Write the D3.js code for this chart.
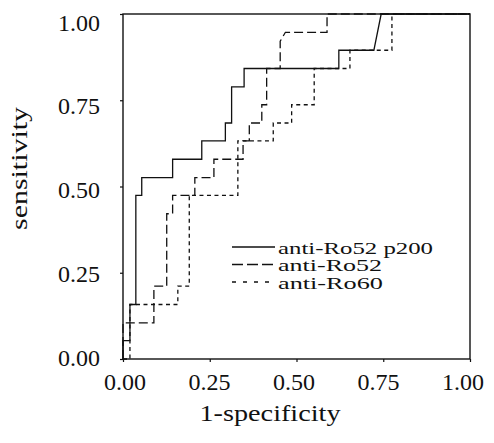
<!DOCTYPE html>
<html><head><meta charset="utf-8">
<script src="https://cdn.jsdelivr.net/npm/d3@7"></script>
<style>body{margin:0;background:#fff}text{font-family:"Liberation Serif","DejaVu Serif",serif;fill:#111}</style></head>
<body><svg id="c" width="494" height="443"></svg>
<script>
// ROC step curves (1-specificity, sensitivity)
const seriesNames = ["anti-Ro52 p200", "anti-Ro52", "anti-Ro60"];
const p200FPR = [0,0,0.02,0.02,0.037,0.037,0.054,0.054,0.143,0.143,0.227,0.227,0.295,0.295,0.313,0.313,0.349,0.349,0.622,0.622,0.723,0.744,1];
const p200TPR = [0,0.053,0.053,0.158,0.158,0.474,0.474,0.526,0.526,0.579,0.579,0.632,0.632,0.684,0.684,0.789,0.789,0.842,0.842,0.895,0.895,1,1];
const ro52FPR = [0,0,0.089,0.089,0.126,0.126,0.143,0.143,0.207,0.207,0.262,0.262,0.346,0.346,0.364,0.364,0.4,0.4,0.414,0.414,0.453,0.453,0.468,0.588,0.588,1];
const ro52TPR = [0,0.105,0.105,0.211,0.211,0.421,0.421,0.474,0.474,0.526,0.526,0.579,0.579,0.632,0.632,0.684,0.684,0.737,0.737,0.842,0.842,0.921,0.947,0.947,1,1];
const ro60FPR = [0,0.02,0.02,0.158,0.158,0.191,0.191,0.331,0.331,0.433,0.433,0.486,0.486,0.551,0.551,0.654,0.654,0.775,0.775,1];
const ro60TPR = [0,0,0.158,0.158,0.211,0.211,0.474,0.474,0.632,0.632,0.684,0.684,0.737,0.737,0.842,0.842,0.895,0.895,1,1];
const tickValues = [0, 0.25, 0.5, 0.75, 1];
const tickLabels = ["0.00", "0.25", "0.50", "0.75", "1.00"];
const xTitle = "1-specificity";
const yTitle = "sensitivity";

const series = [
  {name: seriesNames[0], fpr: p200FPR, tpr: p200TPR, dash: null, legDash: null, w: 155},
  {name: seriesNames[1], fpr: ro52FPR, tpr: ro52TPR, dash: "9,4", legDash: "11,4", w: 104},
  {name: seriesNames[2], fpr: ro60FPR, tpr: ro60TPR, dash: "4,3.5", legDash: "4,7", w: 105}
];

const svg = d3.select("#c");
const L = 123, R = 470, T = 14, B = 359;
const x = d3.scaleLinear().domain([0, 1]).range([L, R]);
const y = d3.scaleLinear().domain([0, 1]).range([B, T]);
const ink = "#111";

// frame
svg.append("rect").attr("x", L).attr("y", T).attr("width", R - L).attr("height", B - T)
  .attr("fill", "none").attr("stroke", ink).attr("stroke-width", 1.4);

// axes ticks
const xAxis = svg.append("g").attr("transform", `translate(0,${B})`)
  .call(d3.axisBottom(x).tickValues(tickValues).tickSize(3).tickFormat(""));
const yAxis = svg.append("g").attr("transform", `translate(${L},0)`)
  .call(d3.axisLeft(y).tickValues(tickValues).tickSize(3).tickFormat(""));
[xAxis, yAxis].forEach(g => { g.select(".domain").remove(); g.selectAll("line").attr("stroke", ink).attr("stroke-width", 1.2); });

// tick labels
const xLab = d3.scaleLinear().domain([0, 1]).range([125, 463]);
const yLab = d3.scaleLinear().domain([0, 1]).range([357.5, 22.5]);
svg.append("g").selectAll("text").data(tickValues).join("text")
  .attr("x", d => xLab(d)).attr("y", 390).attr("text-anchor", "middle")
  .attr("font-size", 23).attr("textLength", 42).attr("lengthAdjust", "spacingAndGlyphs")
  .text((d, i) => tickLabels[i]);
svg.append("g").selectAll("text").data(tickValues).join("text")
  .attr("x", 100).attr("y", d => yLab(d)).attr("dy", "0.35em").attr("text-anchor", "end")
  .attr("font-size", 23).attr("textLength", 42).attr("lengthAdjust", "spacingAndGlyphs")
  .text((d, i) => tickLabels[i]);

svg.append("text").attr("x", 270).attr("y", 421).attr("text-anchor", "middle")
  .attr("font-size", 24).attr("textLength", 141).attr("lengthAdjust", "spacingAndGlyphs").text(xTitle);
svg.append("text").attr("transform", "translate(27,168.5) rotate(-90)").attr("text-anchor", "middle")
  .attr("font-size", 24).attr("textLength", 123).attr("lengthAdjust", "spacingAndGlyphs").text(yTitle);

// curves
const line = d3.line().x(d => x(d[0])).y(d => y(d[1]));
series.forEach(s => {
  const pts = s.fpr.map((f, i) => [f, s.tpr[i]]);
  svg.append("path").attr("d", line(pts)).attr("fill", "none").attr("stroke", ink)
    .attr("stroke-width", 1.3).attr("stroke-dasharray", s.dash);
});

// legend
const lg = svg.append("g").attr("transform", "translate(232,247)");
series.forEach((s, i) => {
  const g = lg.append("g").attr("transform", `translate(0,${i * 17.5})`);
  g.append("line").attr("x1", 0).attr("x2", 43).attr("y1", 0).attr("y2", 0)
    .attr("stroke", ink).attr("stroke-width", 1.3).attr("stroke-dasharray", s.legDash);
  g.append("text").attr("x", 46).attr("y", 6.5).attr("font-size", 17)
    .attr("textLength", s.w).attr("lengthAdjust", "spacingAndGlyphs").text(s.name);
});
</script></body></html>
